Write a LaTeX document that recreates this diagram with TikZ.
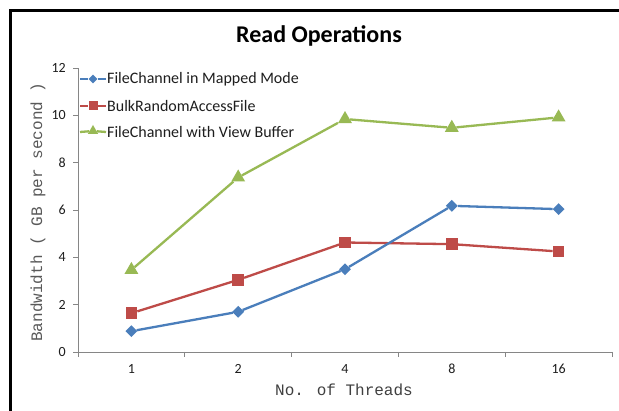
\documentclass[tikz,border=0pt]{standalone}
\usepackage{fontspec}
\setmainfont{Carlito}
\newfontfamily\monofont{Liberation Mono}
\usetikzlibrary{shapes.geometric}
\definecolor{serblue}{HTML}{4A7EBB}
\definecolor{serred}{HTML}{BE4B48}
\definecolor{sergreen}{HTML}{98B954}
\definecolor{axisgrey}{HTML}{868686}
\definecolor{labelgrey}{HTML}{595959}
\definecolor{textdark}{HTML}{1E1E1E}

\begin{document}
\begin{tikzpicture}[x=1pt,y=1pt,
  bluemark/.style={diamond, fill=serblue, inner sep=0pt, minimum width=12pt, minimum height=12pt},
  redmark/.style={rectangle, fill=serred, inner sep=0pt, minimum size=11.5pt},
  greenmark/.style={regular polygon, regular polygon sides=3, fill=sergreen, inner sep=0pt, minimum size=16pt},
  bluekey/.style={bluemark, minimum width=9pt, minimum height=9pt},
  redkey/.style={redmark, minimum size=9pt},
  greenkey/.style={greenmark, minimum size=12pt},
  series/.style={line width=2.3pt},
  axisline/.style={draw=axisgrey, line width=0.9pt},
  ticklabel/.style={font=\fontsize{14}{16}\selectfont, text=textdark, inner sep=0pt},
  keylabel/.style={font=\fontsize{16}{19}\selectfont, text=textdark, anchor=west, inner sep=0pt},
  axistitle/.style={font=\monofont\fontsize{16}{19}\selectfont, inner sep=0pt}
]
\useasboundingbox (0,0) rectangle (619,411);
\fill[white] (0,0) rectangle (619,411);

% chart frame
\draw[line width=2.5pt] (10.5,0) -- (10.5,400.5) -- (619,400.5);

% title
\node[font=\bfseries\fontsize{24}{29}\selectfont, text=black] (title) at (319,375) {Read Operations};

% axis titles
\node[axistitle, text=labelgrey, rotate=90] (ylab) at (38,199) {Bandwidth ( GB per second )};
\node[axistitle, text=textdark!85] (xlab) at (344,21) {No. of Threads};

\begin{scope}[shift={(78,59)}, x=106.8pt, y=23.65pt]
  % axes
  \draw[axisline] (0,12) -- (0,0) -- (5,0);
  \foreach \v in {0,2,...,12} {
    \draw[axisline] (0,\v) -- ++(-5pt,0);
    \node[ticklabel, anchor=east] at ([xshift=-12pt]0,\v) {\v};
  }
  \foreach \i in {0,...,5} {
    \draw[axisline] (\i,0) -- ++(0,-5pt);
  }
  \foreach \lab [count=\i] in {1,2,4,8,16} {
    \node[ticklabel] at ([yshift=-17pt]\i-0.5,0) {\lab};
  }

  % data points
  \foreach \val [count=\i] in {0.88,1.70,3.50,6.18,6.04}
    \node[bluemark] (b\i) at (\i-0.5,\val) {};
  \foreach \val [count=\i] in {1.64,3.05,4.63,4.56,4.25}
    \node[redmark] (r\i) at (\i-0.5,\val) {};
  \foreach \val [count=\i] in {3.47,7.38,9.85,9.48,9.92}
    \node[greenmark] (g\i) at (\i-0.5,\val) {};

  % series lines
  \draw[series, serred] (r1) -- (r2) -- (r3) -- (r4) -- (r5);
  \draw[series, serblue] (b1) -- (b2) -- (b3) -- (b4) -- (b5);
  \draw[series, sergreen] (g1) -- (g2) -- (g3) -- (g4) -- (g5);
\end{scope}

% legend
\coordinate (kbA) at (80,332);  \coordinate (kbB) at (106,332);
\coordinate (krA) at (80,305);  \coordinate (krB) at (106,305);
\coordinate (kgA) at (80,279);  \coordinate (kgB) at (106,279);
\node[bluekey] (kb) at (93,332) {};
\node[redkey] (kr) at (93,305) {};
\node[greenkey] (kg) at (93,280) {};
\draw[series, serblue] (kbA) -- (kb) -- (kbB);
\draw[series, serred] (krA) -- (kr) -- (krB);
\draw[series, sergreen] (kgA) -- (kg) -- (kgB);
\node[keylabel] (tb) at (107,332) {FileChannel in Mapped Mode};
\node[keylabel] (tr) at (107,305) {BulkRandomAccessFile};
\node[keylabel] (tg) at (107,279) {FileChannel with View Buffer};
\end{tikzpicture}
\end{document}
